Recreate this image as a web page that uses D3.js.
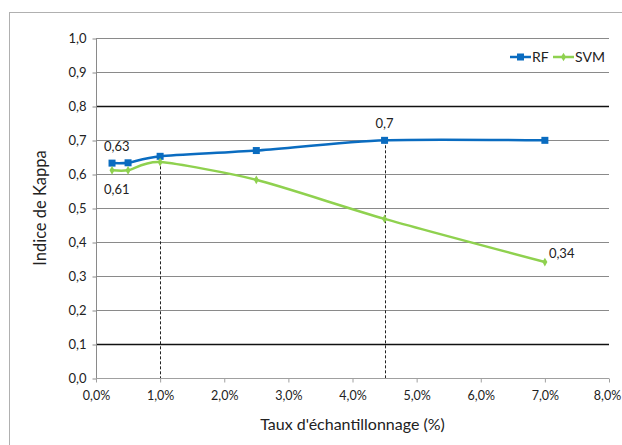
<!DOCTYPE html>
<html>
<head>
<meta charset="utf-8">
<script src="https://cdn.jsdelivr.net/npm/d3@7"></script>
<style>
  body { margin: 0; background: #fff; }
  svg text { font-family: Lato, "Open Sans", sans-serif; fill: #222; }
</style>
</head>
<body>
<div id="chart"></div>
<script>
// sampling rate (%) and kappa values
var rates = [0.25, 0.5, 1, 2.5, 4.5, 7];
var rfValues = [0.632, 0.633, 0.652, 0.669, 0.699, 0.699];
var svmValues = [0.611, 0.611, 0.635, 0.583, 0.468, 0.341];
var seriesNames = ["RF", "SVM"];
var xTicks = [0, 1, 2, 3, 4, 5, 6, 7, 8];
var yTicks = [0, 0.1, 0.2, 0.3, 0.4, 0.5, 0.6, 0.7, 0.8, 0.9, 1.0];
var darkLines = [0.1, 0.8];
var dropLines = [1, 4.5]; // dashed verticals under RF points
// data labels: [series, index, text]
var labels = [["RF", 0, "0,63"], ["SVM", 0, "0,61"], ["RF", 4, "0,7"], ["SVM", 5, "0,34"]];

var W = 622, H = 445;
var margin = {top: 38, right: 13, bottom: 67, left: 96},
    width = 609 - margin.left,
    height = 378 - margin.top;

var colors = {RF: "#0a6cc0", SVM: "#8fd14f"};
var values = {RF: rfValues, SVM: svmValues};

var root = d3.select("#chart").append("svg")
    .attr("width", W)
    .attr("height", H);

// outer chart border
root.append("rect")
    .attr("x", 9.5).attr("y", 12.5)
    .attr("width", W).attr("height", H)
    .attr("fill", "none")
    .attr("stroke", "#b0b0b0");

var svg = root.append("g")
    .attr("transform", "translate(" + margin.left + "," + margin.top + ")");

var x = d3.scaleLinear().domain([0, 8]).range([0, width]);
var y = d3.scaleLinear().domain([0, 1]).range([height, 0]);

var fmt = function(v) { return v.toFixed(1).replace(".", ","); };
var isDark = function(d) {
    return darkLines.some(function(k) { return Math.abs(k - d) < 1e-6; });
};

// gridlines
svg.selectAll(".grid")
    .data(yTicks.filter(function(d) { return d > 0; }))
    .enter().append("line")
    .attr("class", "grid")
    .attr("x1", 0).attr("x2", width)
    .attr("y1", function(d) { return Math.round(y(d)) + 0.5; })
    .attr("y2", function(d) { return Math.round(y(d)) + 0.5; })
    .attr("stroke", function(d) { return isDark(d) ? "#111" : "#8a8a8a"; })
    .attr("stroke-width", function(d) { return isDark(d) ? 1.5 : 1; });

// y axis
var yAxis = svg.append("g")
    .attr("transform", "translate(0.5,0)")
    .call(d3.axisLeft(y).tickValues(yTicks).tickFormat(fmt).tickSize(4).tickPadding(6));
yAxis.select(".domain").attr("stroke", "#8a8a8a").attr("d", "M0," + height + "V0");
yAxis.selectAll(".tick line").attr("stroke", "#8a8a8a").attr("transform", "translate(0,0.5)");
yAxis.selectAll("text").style("font-size", "13px").attr("fill", "#222");

// x axis
var xAxis = svg.append("g")
    .attr("transform", "translate(0," + (Math.round(y(0)) + 0.5) + ")")
    .call(d3.axisBottom(x).tickValues(xTicks)
        .tickFormat(function(d) { return d.toFixed(1).replace(".", ",") + "%"; })
        .tickSize(4).tickPadding(9));
xAxis.select(".domain").attr("stroke", "#a0a0a0").attr("d", "M0,0H" + width);
xAxis.selectAll(".tick line").attr("stroke", "#a0a0a0");
xAxis.selectAll("text").style("font-size", "12.5px").attr("fill", "#222");
// keep the last label inside the window
xAxis.selectAll(".tick text").filter(function(d) { return d === 8; }).attr("dx", "-2");

// dashed drop lines
svg.selectAll(".drop")
    .data(dropLines)
    .enter().append("line")
    .attr("class", "drop")
    .attr("x1", function(d) { return Math.round(x(d)) + 0.5; })
    .attr("x2", function(d) { return Math.round(x(d)) + 0.5; })
    .attr("y1", function(d) { return y(rfValues[rates.indexOf(d)]); })
    .attr("y2", y(0))
    .attr("stroke", "#222")
    .attr("stroke-width", 1)
    .attr("stroke-dasharray", "3,2");

var line = d3.line()
    .x(function(d) { return x(d[0]); })
    .y(function(d) { return y(d[1]); })
    .curve(d3.curveCardinal.tension(0.3));

seriesNames.forEach(function(name) {
    var pts = rates.map(function(r, i) { return [r, values[name][i]]; });
    svg.append("path")
        .datum(pts)
        .attr("d", line)
        .attr("fill", "none")
        .attr("stroke", colors[name])
        .attr("stroke-width", 2.5);
    if (name === "RF") {
        svg.selectAll(".mk-rf").data(pts).enter().append("rect")
            .attr("class", "mk-rf")
            .attr("x", function(d) { return x(d[0]) - 3.5; })
            .attr("y", function(d) { return y(d[1]) - 3.5; })
            .attr("width", 7).attr("height", 7)
            .attr("fill", colors[name]);
    } else {
        svg.selectAll(".mk-svm").data(pts).enter().append("path")
            .attr("class", "mk-svm")
            .attr("transform", function(d) { return "translate(" + x(d[0]) + "," + y(d[1]) + ")"; })
            .attr("d", d3.symbol().type(d3.symbolDiamond).size(22))
            .attr("fill", colors[name]);
    }
});

// data labels
var labelOffsets = {"RF0": [-8, -12], "SVM0": [-8, 24], "RF4": [-9, -12], "SVM5": [4, -4]};
labels.forEach(function(l) {
    var v = values[l[0]][l[1]];
    var off = labelOffsets[l[0] + l[1]];
    svg.append("text")
        .attr("x", x(rates[l[1]]) + off[0])
        .attr("y", y(v) + off[1])
        .style("font-size", "13px")
        .text(l[2]);
});

// legend
var legend = root.append("g").attr("transform", "translate(510,57)");
seriesNames.forEach(function(name, i) {
    var g = legend.append("g").attr("transform", "translate(" + (i * 43) + ",0)");
    g.append("line").attr("x1", 0).attr("x2", 21).attr("y1", 0).attr("y2", 0)
        .attr("stroke", colors[name]).attr("stroke-width", 2.5);
    if (name === "RF") {
        g.append("rect").attr("x", 7).attr("y", -3.5).attr("width", 7).attr("height", 7).attr("fill", colors[name]);
    } else {
        g.append("path").attr("transform", "translate(10.5,0)")
            .attr("d", d3.symbol().type(d3.symbolDiamond).size(22)).attr("fill", colors[name]);
    }
    g.append("text").attr("x", 22).attr("y", 5).style("font-size", "14px").text(name);
});

// axis titles
root.append("text")
    .attr("transform", "translate(46," + (margin.top + height / 2) + ") rotate(-90)")
    .attr("text-anchor", "middle")
    .style("font-size", "16.5px")
    .text("Indice de Kappa");

root.append("text")
    .attr("x", margin.left + width / 2)
    .attr("y", 430)
    .attr("text-anchor", "middle")
    .style("font-size", "16px")
    .text("Taux d'échantillonnage (%)");
</script>
</body>
</html>
